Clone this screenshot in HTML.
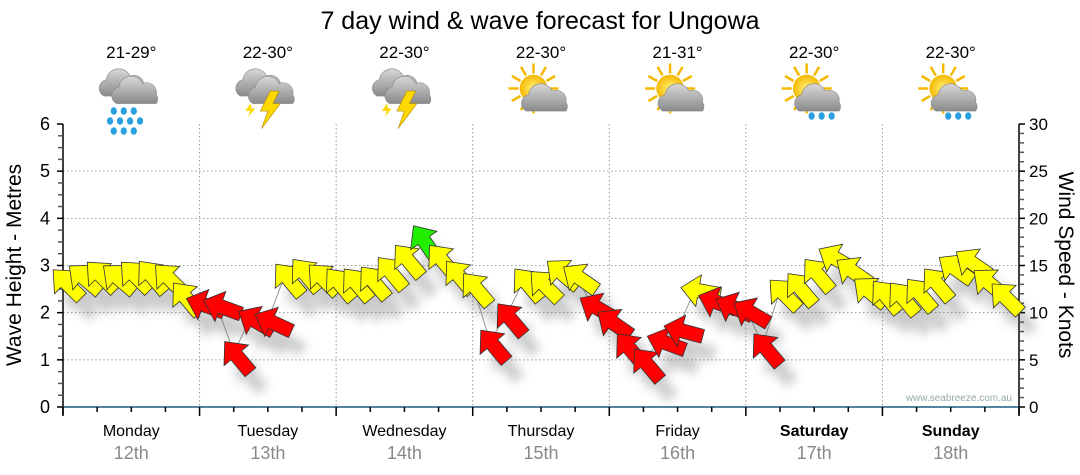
<!DOCTYPE html>
<html><head><meta charset="utf-8"><style>
body{margin:0;background:#fff;width:1080px;height:475px;overflow:hidden;font-family:"Liberation Sans",sans-serif}
svg{display:block}
</style></head><body>
<svg id="chart" width="1080" height="475" xmlns="http://www.w3.org/2000/svg">
<defs>
<filter id="sh" x="-50%" y="-50%" width="200%" height="200%"><feGaussianBlur stdDeviation="5"/></filter>
<radialGradient id="sun" cx="50%" cy="50%" r="50%"><stop offset="0" stop-color="#fff27a"/><stop offset="1" stop-color="#f5b800"/></radialGradient>
<linearGradient id="cld" x1="0" y1="0" x2="0" y2="1"><stop offset="0" stop-color="#d8d8d8"/><stop offset="1" stop-color="#8a8a8a"/></linearGradient>
</defs>
<text x="540" y="29" text-anchor="middle" font-size="25" fill="#000">7 day wind &amp; wave forecast for Ungowa</text>
<g id="grid"></g>
<g id="axes"></g>
<g id="icons"></g>
<g id="marks"></g>
<text transform="translate(21,265) rotate(-90)" text-anchor="middle" font-size="21">Wave Height - Metres</text>
<text transform="translate(1059,265) rotate(90)" text-anchor="middle" font-size="21">Wind Speed - Knots</text>
<text x="1012" y="401" text-anchor="end" font-size="10" fill="#9aa">www.seabreeze.com.au</text>
</svg>
<script>
const days=["Monday","Tuesday","Wednesday","Thursday","Friday","Saturday","Sunday"];
const dates=["12th","13th","14th","15th","16th","17th","18th"];
const temps=["21-29°","22-30°","22-30°","22-30°","21-31°","22-30°","22-30°"];
const icons=["rain","storm","storm","suncloud","suncloud","sunrain","sunrain"];
const waveTicks=[0,1,2,3,4,5,6];
const windTicks=[0,5,10,15,20,25,30];
// wind speed (knots), 3-hourly
const windSpeed=[13.5,14,14.3,14,14.3,14.3,14,12, 11,10.8,5.8,9.4,9.2,14,14.5,14, 13.5,13.5,13.7,14.7,16,18,16,14.3, 13,7,9.8,13.5,13.3,14.5,14,10.8, 9.2,6.6,5,7,8.2,12.4,11.3,10.8, 10.3,6.6,12.4,13,14.5,16,14.7,12.6, 12.2,12,12.4,13.5,15,15.6,13.5,12];
// wind direction (degrees, from)
const windDir=[135,130,135,130,135,140,135,140, 110,110,140,120,115,140,140,135, 140,140,140,140,140,145,140,140, 140,140,140,140,135,130,125,120, 125,140,140,110,105,100,110,115, 120,140,135,140,140,120,125,130, 140,140,140,140,125,125,130,135];
// colour class: y=yellow r=red g=green
const windCls=["y","y","y","y","y","y","y","y", "r","r","r","r","r","y","y","y", "y","y","y","y","y","g","y","y", "y","r","r","y","y","y","y","r", "r","r","r","r","r","y","r","r", "r","r","y","y","y","y","y","y", "y","y","y","y","y","y","y","y"];
const colMap={y:"#ffff00",r:"#ff0000",g:"#22ee00"};
const NS="http://www.w3.org/2000/svg";
const X0=63,X1=1019,Y0=407,Y1=124;
const dayW=(X1-X0)/7;
function xT(i){return X0+i*dayW/8;}
function yW(m){return Y0-(m/6)*(Y0-Y1);}
function yK(k){return Y0-(k/30)*(Y0-Y1);}
function mk(tag,attrs,parent){const e=document.createElementNS(NS,tag);for(const k in attrs)e.setAttribute(k,attrs[k]);parent.appendChild(e);return e;}
const grid=document.getElementById('grid'),axes=document.getElementById('axes'),iconsG=document.getElementById('icons'),marks=document.getElementById('marks');
for(const m of waveTicks){ if(m===0||m===6)continue;
 const l=mk('line',{x1:X0,x2:X1,y1:yW(m),y2:yW(m),stroke:'#999','stroke-dasharray':'1.5,2.5'},grid);
 
 }
for(let d=1;d<7;d++){const x=X0+d*dayW;
 const l=mk('line',{x1:x,x2:x,y1:Y1,y2:Y0,stroke:'#999','stroke-dasharray':'1.5,2.5'},grid);
 
 }
mk('line',{x1:X0,x2:X0,y1:Y1,y2:Y0+8,stroke:'#000','stroke-width':1.5},axes);
mk('line',{x1:X1,x2:X1,y1:Y1,y2:Y0+8,stroke:'#000','stroke-width':1.5},axes);
mk('line',{x1:X0,x2:X1,y1:Y0,y2:Y0,stroke:'#1a5a80','stroke-width':1.5},axes);
for(let i=0;i<=24;i++){const m=i/4;const y=yW(m);
 mk('line',{x1:X0-(i%4===0?6:5),x2:X0,y1:y,y2:y,stroke:i%4===0?'#000':'#555','stroke-width':1.5},axes);}
for(const m of waveTicks){const t=mk('text',{x:X0-13,y:yW(m)+6,'text-anchor':'end','font-size':18},axes);t.textContent=m;
 
 }
for(let k=0;k<=30;k++){const y=yK(k);
 mk('line',{x1:X1,x2:X1+(k%5===0?6:5),y1:y,y2:y,stroke:k%5===0?'#000':'#555','stroke-width':1.5},axes);}
for(const k of windTicks){const t=mk('text',{x:X1+10,y:yK(k)+6,'font-size':17},axes);t.textContent=k;
 
 }
for(let i=0;i<=28;i++){const x=X0+i*dayW/4;
 mk('line',{x1:x,x2:x,y1:Y0,y2:Y0+(i%4===0?9:5),stroke:'#000','stroke-width':1.5},axes);}
for(let d=0;d<7;d++){const cx=X0+(d+0.5)*dayW;
 const a=mk('text',{x:cx,y:436,'text-anchor':'middle','font-size':16,'font-weight':d>=5?'bold':'normal'},axes);a.textContent=days[d];
 
 
 const b=mk('text',{x:cx,y:459,'text-anchor':'middle','font-size':18,fill:'#888'},axes);b.textContent=dates[d];
 
 
 const t=mk('text',{x:cx,y:58,'text-anchor':'middle','font-size':17},iconsG);t.textContent=temps[d];
 
 
 const g=mk('g',{transform:`translate(${cx},96) scale(1.25)`},iconsG);
 
 
 drawIcon(g,icons[d]);}
function cloud(g,dx,dy,s){
 mk('path',{d:`M${dx-16*s},${dy+8*s} a7 7 0 0 1 2,-13 a10 10 0 0 1 19,-3 a8 8 0 0 1 11,9 a6 6 0 0 1 0,7 z`,fill:'url(#cld)',stroke:'#888','stroke-width':0.5},g);}
function drawIcon(g,type){
 if(type==='suncloud'||type==='sunrain'){
  for(let a=0;a<360;a+=30){const r=a*Math.PI/180;mk('line',{x1:-6+Math.cos(r)*12,y1:-6+Math.sin(r)*12,x2:-6+Math.cos(r)*20,y2:-6+Math.sin(r)*20,stroke:'#f5b800','stroke-width':2},g);}
  mk('circle',{cx:-6,cy:-6,r:11,fill:'url(#sun)'},g);
  cloud(g,4,4,1);
  if(type==='sunrain'){for(const p of [[-2,16],[6,16],[14,16]])mk('ellipse',{cx:p[0],cy:p[1],rx:2.5,ry:3,fill:'#2aa0e0'},g);}
 } else {
  cloud(g,-6,-8,1); cloud(g,4,-2,1);
  if(type==='rain'){for(let r=0;r<3;r++)for(let c=0;c<4;c++){if(r!==1&&c===3)continue;mk('ellipse',{cx:-14+c*8+(r===1?-3:0),cy:12+r*8,rx:2.5,ry:3,fill:'#2aa0e0'},g);}}
  else {mk('path',{d:'M2,-4 L-6,12 L0,12 L-5,26 L10,6 L4,6 L9,-4 z',fill:'#ffd800',stroke:'#b58a00','stroke-width':0.5},g);
   mk('path',{d:'M-14,6 L-18,12 L-14,12 L-16,17 L-10,10 L-13,10 z',fill:'#ffd800'},g);}
 }}
const pts=windSpeed.map((k,i)=>[xT(i),yK(k)]);
const line=mk('polyline',{points:pts.map(p=>p.join(',')).join(' '),fill:'none',stroke:'#999','stroke-width':1},marks);


const shadowG=mk('g',{filter:'url(#sh)',opacity:0.3},marks);
const arrowPath='M0,0 L-18,-16 L-18,-7 L-40,-7 L-40,7 L-18,7 L-18,16 Z';
function rot(i){const b=windDir[i]+180;return b-90;}
windSpeed.forEach((k,i)=>{
 const x=xT(i),y=yK(k);
 mk('path',{d:arrowPath,transform:`translate(${x+12},${y+18}) rotate(${rot(i)}) translate(14,0)`,fill:'#555'},shadowG);});
windSpeed.forEach((k,i)=>{
 const x=xT(i),y=yK(k);
 const p=mk('path',{d:arrowPath,transform:`translate(${x},${y}) rotate(${rot(i)}) translate(14,0)`,fill:colMap[windCls[i]],stroke:'#333','stroke-width':0.8},marks);
 
 });
</script>
</body></html>
